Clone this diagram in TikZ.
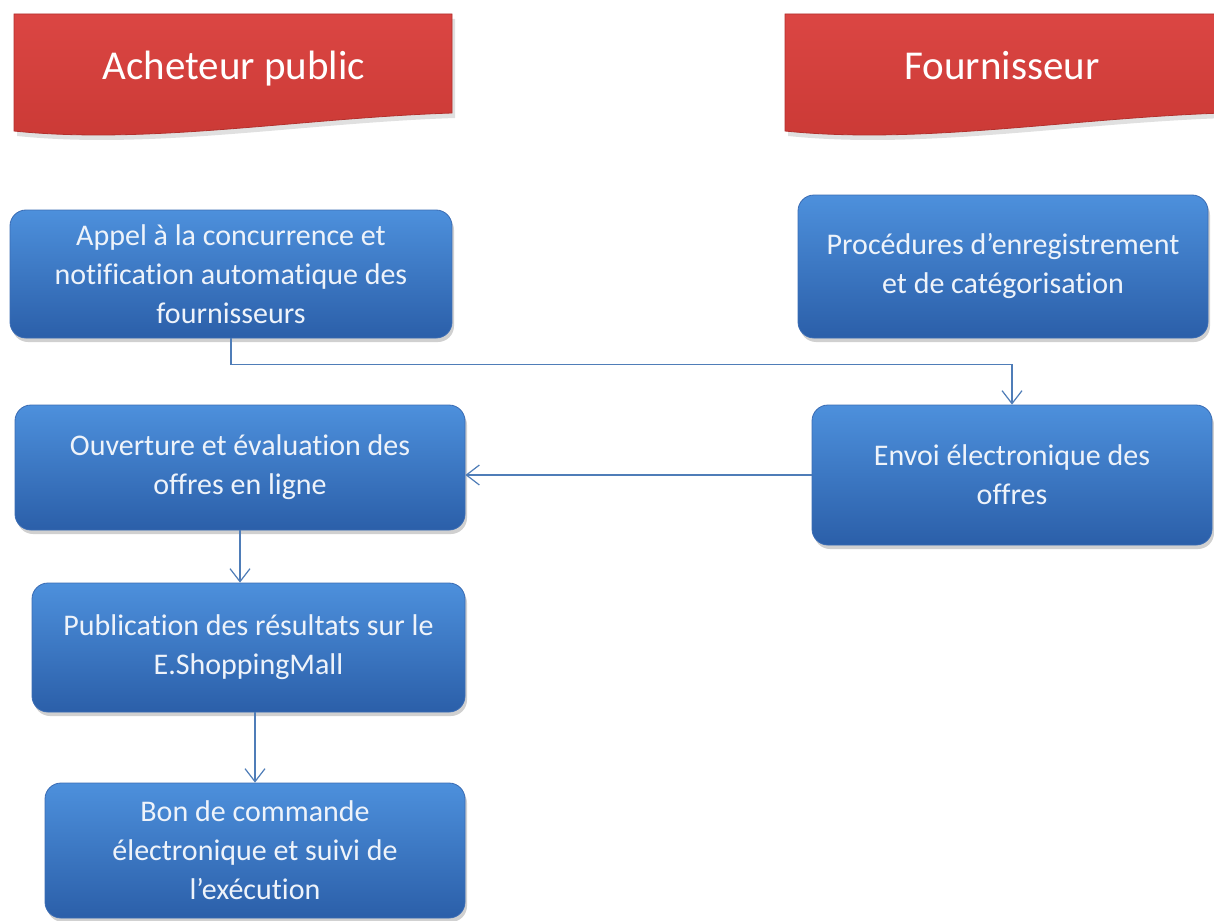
\documentclass[tikz,border=0pt]{standalone}
\usepackage{fontspec}
\setmainfont{Carlito}[Ligatures=NoCommon,RawFeature={-liga;-clig}]
\usetikzlibrary{arrows.meta,shadows}
\definecolor{boxtop}{HTML}{4D90DC}
\definecolor{boxbot}{HTML}{2B5FA9}
\definecolor{boxedge}{HTML}{3A6CB4}
\definecolor{boxtext}{HTML}{EEF3FA}
\definecolor{linec}{HTML}{4F7DB8}
\definecolor{bantop}{HTML}{DB4643}
\definecolor{banbot}{HTML}{CA3935}
\definecolor{banedge}{HTML}{B3302D}
\begin{document}
\begin{tikzpicture}[x=1pt,y=-1pt,
  stepbox/.style={rectangle, rounded corners=16pt, draw=boxedge, line width=0.8pt,
    top color=boxtop, bottom color=boxbot, text=boxtext,
    font=\fontsize{30}{39}\selectfont, align=center, inner sep=0pt,
    drop shadow={shadow xshift=2pt, shadow yshift=-4pt, opacity=0.3, fill=black!60}},
  conn/.style={draw=linec, line width=1.2pt,
    -{Straight Barb[length=13pt,width=20pt,line width=1.2pt]}},
  banner/.style={top color=bantop, bottom color=banbot, draw=banedge, line width=0.8pt},
  banshadow/.style={fill=black, opacity=0.12},
  bantext/.style={text=white, font=\fontsize{41}{48}\selectfont, anchor=base, inner sep=0pt}]

\fill[white] (0,0) rectangle (1214,920);
\useasboundingbox (0,0) rectangle (1214,920);

% banner shadows
\path[banshadow] (17,19) -- (455,19) -- (455,118) .. controls (303,123) and (153,150) .. (17,136) -- cycle;
\path[banshadow] (788,19) -- (1226,19) -- (1226,118) .. controls (1074,123) and (924,150) .. (788,136) -- cycle;
% banners
\path[banner] (14,14) -- (452,14) -- (452,113) .. controls (300,118) and (150,145) .. (14,131) -- cycle;
\path[banner] (785,14) -- (1223,14) -- (1223,113) .. controls (1071,118) and (921,145) .. (785,131) -- cycle;
\node[bantext] (acheteur) at (234,80) {Acheteur public};
\node[bantext] (fournisseur) at (1002,80) {Fournisseur};

% boxes
\node[stepbox, minimum width=442pt, minimum height=128pt] (A) at (231,274)
  {Appel à la concurrence et\\notification automatique des\\fournisseurs};
\node[stepbox, minimum width=410pt, minimum height=143pt] (B) at (1003,266.5)
  {Procédures d’enregistrement\\et de catégorisation};
\node[stepbox, minimum width=400pt, minimum height=140pt] (C) at (1012,475)
  {Envoi électronique des\\offres};
\node[stepbox, minimum width=450pt, minimum height=125pt] (D) at (240,467.5)
  {Ouverture et évaluation des\\offres en ligne};
\node[stepbox, minimum width=433pt, minimum height=129pt] (E) at (248.5,647.5)
  {Publication des résultats sur le\\E.ShoppingMall};
\node[stepbox, minimum width=420pt, minimum height=135pt] (F) at (255,850.5)
  {Bon de commande\\électronique et suivi de\\l’exécution};

% connectors
\draw[conn] (A.south) -- ++(0,26) -| (C.north);
\draw[conn] (C.west) -- (C.west -| D.east);
\draw[conn] (D.south) -- (D.south |- E.north);
\draw[conn] (F.north |- E.south) -- (F.north);
\end{tikzpicture}
\end{document}
